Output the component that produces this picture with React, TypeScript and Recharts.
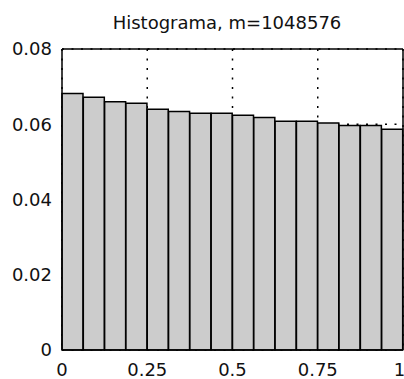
import { BarChart, Bar, XAxis, YAxis, CartesianGrid, ReferenceLine } from 'recharts';

// #region Data
const binCenters = [
  0.03125, 0.09375, 0.15625, 0.21875, 0.28125, 0.34375, 0.40625, 0.46875,
  0.53125, 0.59375, 0.65625, 0.71875, 0.78125, 0.84375, 0.90625, 0.96875,
];
const frequencies = [
  0.0682, 0.0672, 0.066, 0.0656, 0.064, 0.0634, 0.0629, 0.0629,
  0.0624, 0.0618, 0.0608, 0.0608, 0.0603, 0.0597, 0.0597, 0.0587,
];
const xTicks = [0, 0.25, 0.5, 0.75, 1];
const yTicks = [0, 0.02, 0.04, 0.06, 0.08];
const title = 'Histograma, m=1048576';
// #endregion

const data = binCenters.map((x, i) => ({ x, freq: frequencies[i] }));

const font = { fontFamily: '"DejaVu Sans", sans-serif', fontSize: 18, fill: '#111' };

const App = () => {
  return (
    <div style={{ position: 'absolute', left: 0, top: 0, width: 404, height: 379, background: '#fff' }}>
      <div
        style={{
          position: 'absolute',
          left: 227,
          top: 14,
          transform: 'translateX(-50%)',
          whiteSpace: 'nowrap',
          fontFamily: '"DejaVu Sans", sans-serif',
          fontSize: 18,
          lineHeight: '18px',
          color: '#111',
        }}
      >
        {title}
      </div>
      <BarChart
        width={404}
        height={379}
        data={data}
        barCategoryGap={0}
        barGap={0}
        margin={{ top: 49, right: 1, left: 0, bottom: 0 }}
      >
        <CartesianGrid stroke="#000" strokeWidth={1.5} strokeDasharray="2 7.5" />
        <XAxis
          dataKey="x"
          type="number"
          domain={[0, 1]}
          ticks={xTicks}
          height={29}
          tickSize={0}
          tickMargin={13}
          tick={font}
          stroke="#000"
          strokeWidth={1.5}
        />
        <YAxis
          type="number"
          domain={[0, 0.08]}
          ticks={yTicks}
          width={62}
          tickSize={0}
          tickMargin={10}
          tick={font}
          stroke="#000"
          strokeWidth={1.5}
        />
        <ReferenceLine y={0.08} stroke="#000" strokeWidth={1.5} />
        <ReferenceLine x={1} stroke="#000" strokeWidth={1.5} />
        <Bar dataKey="freq" fill="#cccccc" stroke="#000" strokeWidth={1.5} isAnimationActive={false} />
      </BarChart>
    </div>
  );
};

export default App;
